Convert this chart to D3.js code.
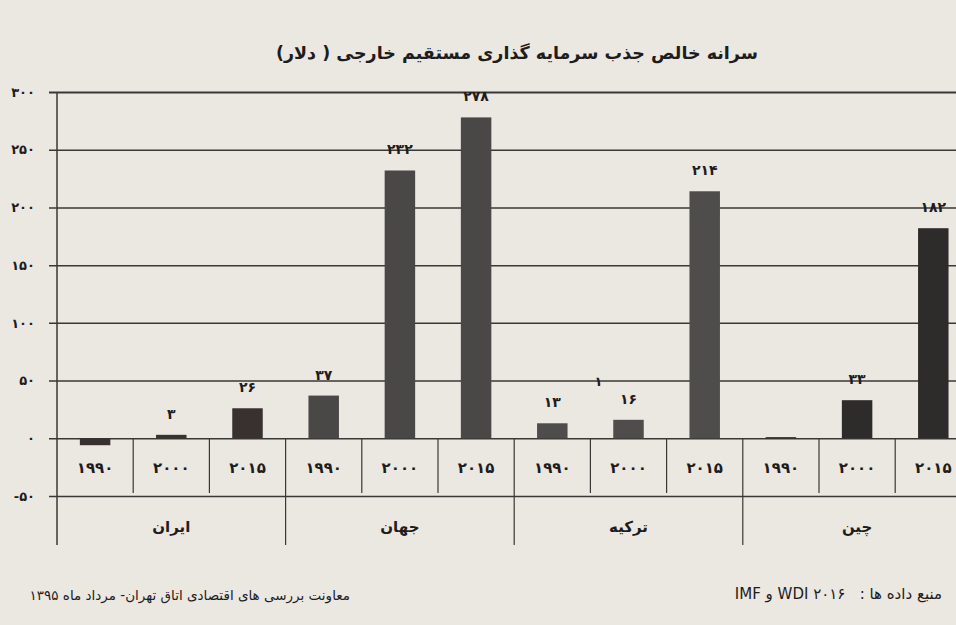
<!DOCTYPE html>
<html>
<head>
<meta charset="utf-8">
<script src="https://cdn.jsdelivr.net/npm/d3@7"></script>
<style>
  html, body { margin: 0; padding: 0; background: #ebe7e1; }
  svg { display: block; }
  text { font-family: "DejaVu Sans", sans-serif; fill: #1e1c1c; }
</style>
</head>
<body>
<svg id="chart" width="956" height="625"></svg>
<script>
// ---- data ----
const countries = ["ایران", "جهان", "ترکیه", "چین"];
const years = ["۱۹۹۰", "۲۰۰۰", "۲۰۱۵"];
const iranValues = [-6, 3, 26];
const worldValues = [37, 232, 278];
const turkeyValues = [13, 16, 214];
const chinaValues = [1, 33, 182];
const iranLabels = ["", "۳", "۲۶"];
const worldLabels = ["۳۷", "۲۳۲", "۲۷۸"];
const turkeyLabels = ["۱۳", "۱۶", "۲۱۴"];
const chinaLabels = ["", "۳۳", "۱۸۲"];
const yTickValues = [-50, 0, 50, 100, 150, 200, 250, 300];
const yTickLabels = ["-۵۰", "۰", "۵۰", "۱۰۰", "۱۵۰", "۲۰۰", "۲۵۰", "۳۰۰"];
const strayLabel = "۱";
const title = "سرانه خالص جذب سرمایه گذاری مستقیم خارجی ( دلار)";
const footerLeft = "معاونت بررسی های اقتصادی اتاق تهران- مرداد ماه ۱۳۹۵";
const footerRight = "منبع داده ها :   ۲۰۱۶ WDI و IMF";

const seriesValues = [iranValues, worldValues, turkeyValues, chinaValues];
const seriesLabels = [iranLabels, worldLabels, turkeyLabels, chinaLabels];
const barColors = ["#38312f", "#4a4747", "#4f4d4c", "#2e2b2b"];

const rows = [];
countries.forEach((c, ci) => years.forEach((yr, yi) => rows.push({
  key: ci + "-" + yi, country: c, ci, year: yr,
  value: seriesValues[ci][yi], label: seriesLabels[ci][yi]
})));

// ---- layout ----
const svg = d3.select("#chart");
const left = 57, cellW = 76.2;
const right = left + cellW * rows.length;
const y = d3.scaleLinear().domain([-50, 300]).range([496, 92]);
const x = d3.scaleBand().domain(rows.map(d => d.key)).range([left, right]).padding(0);
const xc = d3.scaleBand().domain(countries).range([left, right]).padding(0);
const rowBottom = 545;
const lineColor = "#3a3836";

// title
svg.append("text").attr("x", 517).attr("y", 59)
  .attr("text-anchor", "middle").attr("direction", "rtl")
  .style("font-size", "17.5px").style("font-weight", "bold").text(title);

// gridlines + y tick labels
const yAxis = d3.axisLeft(y).tickValues(yTickValues)
  .tickSize(-(right - left) - 8).tickPadding(14)
  .tickFormat((d, i) => yTickLabels[i]);
const gy = svg.append("g").attr("transform", `translate(${left - 8},0)`).call(yAxis);
gy.select(".domain").remove();
gy.selectAll(".tick line").attr("stroke", lineColor)
  .attr("stroke-width", d => d === 300 ? 2 : 1.5)
  .attr("x1", 0).attr("x2", (right - left) + 8);
gy.selectAll(".tick text").style("font-size", "13px").style("font-weight", "bold")
  .attr("fill", "#1e1c1c").style("font-family", "DejaVu Sans, sans-serif");

// left border
svg.append("line").attr("x1", left).attr("x2", left)
  .attr("y1", y(300)).attr("y2", rowBottom)
  .attr("stroke", lineColor).attr("stroke-width", 1.5);

// year cell separators
rows.forEach((d, i) => {
  if (i === 0) return;
  const bx = x(d.key);
  const isGroup = d.ci !== rows[i - 1].ci;
  svg.append("line").attr("x1", bx).attr("x2", bx)
    .attr("y1", y(0)).attr("y2", isGroup ? rowBottom : y(-50) - 3)
    .attr("stroke", lineColor).attr("stroke-width", 1.2);
});

// year labels
svg.append("g").selectAll("text").data(rows).join("text")
  .attr("x", d => x(d.key) + x.bandwidth() / 2)
  .attr("y", (y(0) + y(-50)) / 2 + 6)
  .attr("text-anchor", "middle")
  .style("font-size", "15px").style("font-weight", "bold")
  .text(d => d.year);

// country labels
svg.append("g").selectAll("text").data(countries).join("text")
  .attr("x", d => xc(d) + xc.bandwidth() / 2)
  .attr("y", 532)
  .attr("text-anchor", "middle").attr("direction", "rtl")
  .style("font-size", "15px").style("font-weight", "bold")
  .text(d => d);

// bars
const bw = x.bandwidth() * 0.4;
svg.append("g").selectAll("rect").data(rows).join("rect")
  .attr("x", d => x(d.key) + (x.bandwidth() - bw) / 2)
  .attr("width", bw)
  .attr("y", d => y(Math.max(0, d.value)))
  .attr("height", d => Math.abs(y(d.value) - y(0)))
  .attr("fill", d => barColors[d.ci]);

// value labels
svg.append("g").selectAll("text").data(rows.filter(d => d.label)).join("text")
  .attr("x", d => x(d.key) + x.bandwidth() / 2)
  .attr("y", d => y(Math.max(0, d.value)) - 16)
  .attr("text-anchor", "middle")
  .style("font-size", "14px").style("font-weight", "bold")
  .text(d => d.label);

// stray label near turkey
svg.append("text")
  .attr("x", x("2-1") + 8).attr("y", y(50) + 5)
  .attr("text-anchor", "middle")
  .style("font-size", "13px").style("font-weight", "bold")
  .text(strayLabel);

// footers
svg.append("text").attr("x", 350).attr("y", 600)
  .attr("text-anchor", "start").attr("direction", "rtl")
  .style("font-size", "13.5px").text(footerLeft);
svg.append("text").attr("x", 942).attr("y", 599)
  .attr("text-anchor", "start").attr("direction", "rtl")
  .style("white-space", "pre")
  .style("font-size", "15px").text(footerRight);
</script>
</body>
</html>
